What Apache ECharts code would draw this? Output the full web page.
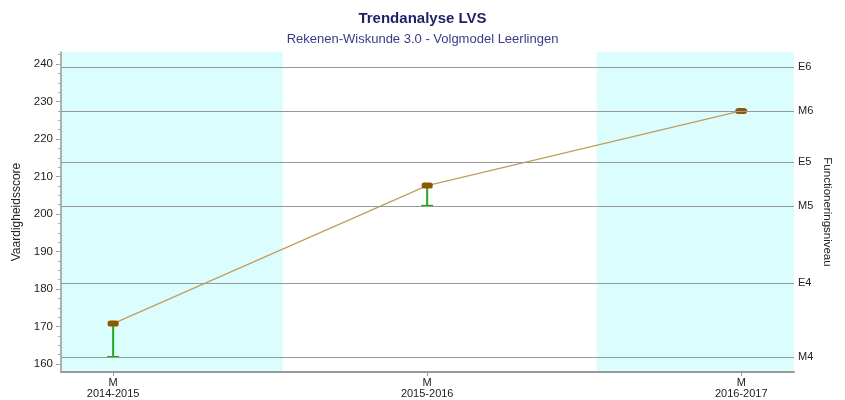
<!DOCTYPE html>
<html><head><meta charset="utf-8">
<script src="https://cdn.jsdelivr.net/npm/echarts@6/dist/echarts.min.js"></script>
<style>html,body{margin:0;padding:0;background:#fff}#c{width:845px;height:400px}</style>
</head><body><div id="c"></div>
<script>
const categories = ['2014-2015', '2015-2016', '2016-2017'];
const scores = [170.8, 207.6, 227.5];
const lowValues = [161.9, 202.2, 227.5];
const levelNames = ['E6', 'M6', 'E5', 'M5', 'E4', 'M4'];
const levelValues = [239.2, 227.5, 213.9, 202.2, 181.6, 161.9];
const yTickLabels = [160, 170, 180, 190, 200, 210, 220, 230, 240];
const bands = [[-0.166, 0.54], [1.54, 2.168]];

const FONT = 'Liberation Sans';
const minorTicks = [];
for (let v = 160; v <= 242.5; v += 2.5) minorTicks.push(v);

const chart = echarts.init(document.getElementById('c'), null, {renderer: 'canvas'});
const yMin = 157.9, yMax = 243.2;
chart.setOption({
  animation: false,
  textStyle: {fontFamily: FONT},
  title: {
    text: 'Trendanalyse LVS',
    subtext: 'Rekenen-Wiskunde 3.0 - Volgmodel Leerlingen',
    left: 'center', top: 6, itemGap: 7,
    textStyle: {fontFamily: FONT, fontSize: 15, fontWeight: 'bold', color: '#1f1f66'},
    subtextStyle: {fontFamily: FONT, fontSize: 13, color: '#3a3a8a'}
  },
  grid: {left: 61, right: 51, top: 52, bottom: 28},
  xAxis: {
    type: 'value', min: -0.166, max: 2.168, z: 10,
    axisLine: {show: true, onZero: false, lineStyle: {color: '#999', width: 2}},
    axisTick: {show: true, customValues: [0, 1, 2], length: 4, lineStyle: {color: '#999'}},
    axisLabel: {customValues: [0, 1, 2], formatter: v => 'M\n' + categories[Math.round(v)],
      color: '#222', fontSize: 11, lineHeight: 11, margin: 5, fontFamily: FONT},
    splitLine: {show: false}
  },
  yAxis: [
    {
      type: 'value', min: yMin, max: yMax, position: 'left', z: 10,
      name: 'Vaardigheidsscore', nameLocation: 'middle', nameGap: 33, nameRotate: 90,
      nameTextStyle: {color: '#222', fontSize: 12, fontFamily: FONT},
      axisLine: {show: true, onZero: false, lineStyle: {color: '#999', width: 1.5}},
      axisTick: {show: true, customValues: yTickLabels, length: 5, lineStyle: {color: '#999'}},
      axisLabel: {customValues: yTickLabels, color: '#222', fontSize: 11.5, margin: 8, fontFamily: FONT},
      splitLine: {show: false}
    },
    {
      type: 'value', min: yMin, max: yMax, position: 'left', offset: 0, z: 10,
      axisLine: {show: false, onZero: false},
      axisTick: {show: true, customValues: minorTicks, length: 3, lineStyle: {color: '#aaa'}},
      axisLabel: {show: false}, splitLine: {show: false}
    },
    {
      type: 'value', min: yMin, max: yMax, position: 'right',
      name: 'Functioneringsniveau', nameLocation: 'middle', nameGap: 27, nameRotate: -90,
      nameTextStyle: {color: '#222', fontSize: 11.5, fontFamily: FONT},
      axisLine: {show: false, onZero: false}, axisTick: {show: false}, axisLabel: {show: false}, splitLine: {show: false}
    }
  ],
  series: [
    {
      type: 'line', yAxisIndex: 0, z: 1, silent: true,
      data: [],
      markArea: {
        silent: true,
        itemStyle: {color: '#dcfdfd'},
        data: bands.map(b => [{xAxis: b[0]}, {xAxis: b[1]}])
      },
      markLine: {
        silent: true, symbol: 'none',
        lineStyle: {color: '#999', width: 1.2, type: 'solid'},
        label: {position: 'end', formatter: '{b}', color: '#222', fontSize: 11, distance: 4, fontFamily: FONT},
        data: levelNames.map((n, i) => ({name: n, yAxis: levelValues[i]}))
      }
    },
    {
      type: 'custom', yAxisIndex: 0, z: 3,
      data: scores.map((s, i) => [i, s, lowValues[i]]),
      renderItem: (params, api) => {
        const top = api.coord([api.value(0), api.value(1)]);
        const bot = api.coord([api.value(0), api.value(2)]);
        return {
          type: 'group',
          children: [
            {type: 'line', shape: {x1: top[0], y1: top[1], x2: bot[0], y2: bot[1]}, style: {stroke: '#22a822', lineWidth: 2}},
            {type: 'line', shape: {x1: bot[0] - 6, y1: bot[1], x2: bot[0] + 6, y2: bot[1]}, style: {stroke: '#22a822', lineWidth: 2}}
          ]
        };
      }
    },
    {
      type: 'line', yAxisIndex: 0, z: 4,
      data: scores.map((s, i) => [i, s]),
      lineStyle: {color: '#bf9e5e', width: 1.3},
      symbol: 'roundRect', symbolSize: [11, 6],
      itemStyle: {color: '#8b5a00'},
      showSymbol: true
    }
  ]
});
</script></body></html>
